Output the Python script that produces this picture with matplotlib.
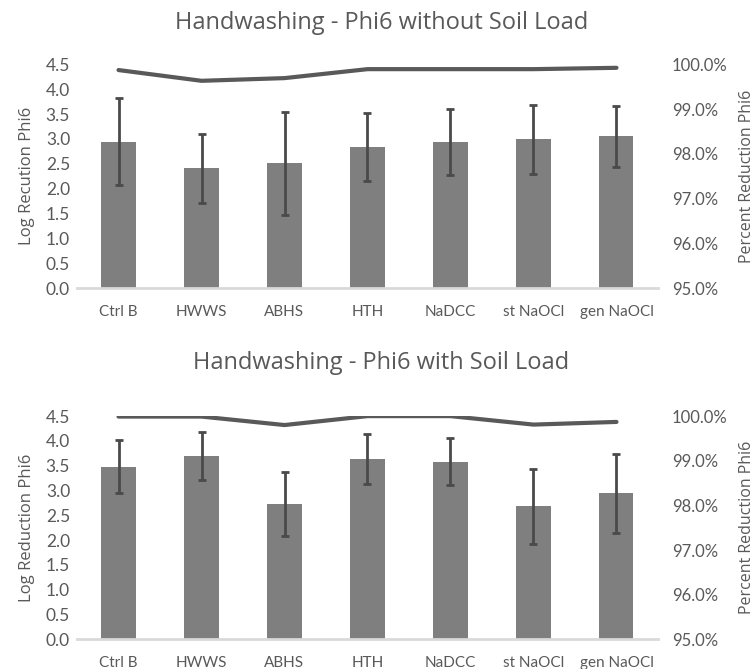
import matplotlib.pyplot as plt
import numpy as np
from matplotlib.ticker import FuncFormatter

categories = ['Ctrl B', 'HWWS', 'ABHS', 'HTH', 'NaDCC', 'st NaOCl', 'gen NaOCl']

# without soil load
lr_no_soil = [2.94, 2.41, 2.51, 2.84, 2.94, 2.99, 3.05]
err_no_soil = [0.875, 0.69, 1.03, 0.69, 0.665, 0.69, 0.61]
pct_no_soil = [99.87, 99.63, 99.69, 99.89, 99.89, 99.89, 99.92]

# with soil load
lr_soil = [3.48, 3.69, 2.73, 3.64, 3.58, 2.68, 2.94]
err_soil = [0.53, 0.48, 0.64, 0.50, 0.47, 0.75, 0.79]
pct_soil = [99.99, 99.99, 99.80, 100.0, 100.0, 99.81, 99.87]

titles = ['Handwashing - Phi6 without Soil Load', 'Handwashing - Phi6 with Soil Load']
ylabels = ['Log Recution Phi6', 'Log Reduction Phi6']

text_col = '#595959'
bar_col = '#7f7f7f'
err_col = '#4a4a4a'
line_col = '#595959'
tick_font = 'Lato'
label_font = 'Open Sans'

fig = plt.figure(figsize=(7.55, 6.69), dpi=100)
positions = [[0.102, 0.569, 0.7695, 0.335], [0.102, 0.0444, 0.7695, 0.3336]]
title_y = [0.9656, 0.4574]
datasets = [(lr_no_soil, err_no_soil, pct_no_soil), (lr_soil, err_soil, pct_soil)]

x = np.arange(len(categories))
for pos, (lr, err, pct), title, ty, ylab in zip(positions, datasets, titles, title_y, ylabels):
    ax = fig.add_axes(pos)
    ax.bar(x, lr, width=0.41, color=bar_col, zorder=2)
    ax.errorbar(x, lr, yerr=err, fmt='none', ecolor=err_col, elinewidth=2,
                capsize=3, capthick=2, zorder=3)
    ax.set_xlim(-0.5, len(categories) - 0.5)
    ax.set_ylim(0, 4.5)
    ax.set_yticks(np.arange(0, 4.51, 0.5))
    ax.yaxis.set_major_formatter(FuncFormatter(lambda v, p: f'{v:.1f}'))
    ax.set_xticks(x)
    ax.set_xticklabels(categories)
    for s in ['top', 'right', 'left']:
        ax.spines[s].set_visible(False)
    ax.spines['bottom'].set_color('#d9d9d9')
    ax.spines['bottom'].set_linewidth(2)
    ax.tick_params(axis='y', length=0, labelcolor=text_col, labelsize=12.5, pad=5)
    ax.tick_params(axis='x', length=0, labelcolor=text_col, labelsize=11, pad=12)
    for t in ax.get_xticklabels() + ax.get_yticklabels():
        t.set_fontfamily(tick_font)
    ax.set_ylabel(ylab, color=text_col, fontsize=12, family=label_font, labelpad=8)
    fig.text(0.505, ty, title, color=text_col, fontsize=17, family=label_font,
             ha='center', va='center')

    ax2 = ax.twinx()
    ax2.plot(x, np.array(pct) / 100, color=line_col, linewidth=3, solid_capstyle='round', zorder=4)
    ax2.set_ylim(0.95, 1.0)
    ax2.set_yticks(np.arange(0.95, 1.0001, 0.01))
    ax2.yaxis.set_major_formatter(FuncFormatter(lambda v, p: f'{v * 100:.1f}%'))
    for s in ['top', 'right', 'left', 'bottom']:
        ax2.spines[s].set_visible(False)
    ax2.tick_params(length=0, labelcolor=text_col, labelsize=12, pad=10)
    for t in ax2.get_yticklabels():
        t.set_fontfamily(tick_font)
    ax2.set_ylabel('Percent Reduction Phi6', color=text_col, fontsize=11.5, family=label_font, labelpad=8)

plt.savefig('out.png', dpi=100)
